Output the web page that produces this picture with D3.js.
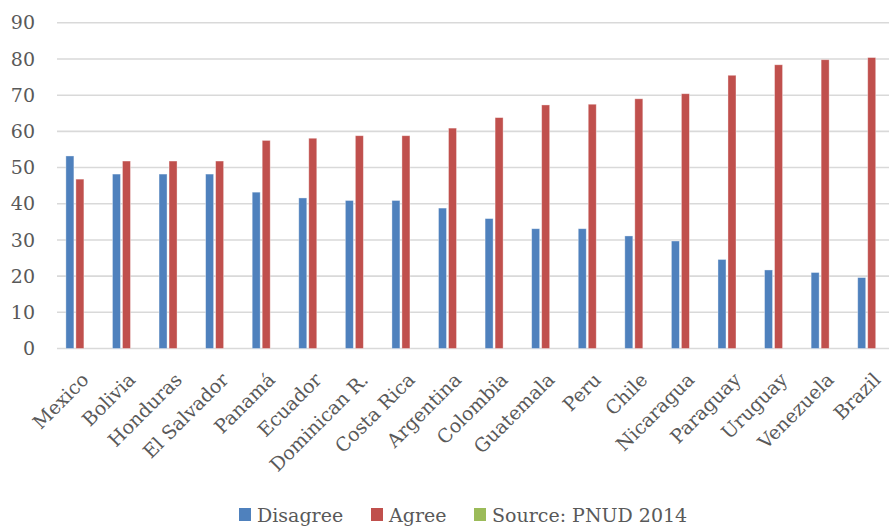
<!DOCTYPE html>
<html>
<head>
<meta charset="utf-8">
<script src="https://cdn.jsdelivr.net/npm/d3@7"></script>
<style>
  body { margin: 0; background: #fff; }
  svg { display: block; }
  text { font-family: 'DejaVu Serif', 'Liberation Serif', serif; fill: #595959; }
</style>
</head>
<body>
<div id="chart"></div>
<script>
var countries = ['Mexico', 'Bolivia', 'Honduras', 'El Salvador', 'Panamá', 'Ecuador', 'Dominican R.',
    'Costa Rica', 'Argentina', 'Colombia', 'Guatemala', 'Peru', 'Chile', 'Nicaragua', 'Paraguay',
    'Uruguay', 'Venezuela', 'Brazil'];
var disagree = [53.2, 48.2, 48.2, 48.2, 43.2, 41.6, 40.9, 40.9, 38.8, 35.9, 33.1, 33.1, 31.1, 29.7, 24.6, 21.7, 21.0, 19.6];
var agree = [46.8, 51.8, 51.8, 51.8, 57.5, 58.1, 58.8, 58.8, 60.9, 63.8, 67.3, 67.5, 69.0, 70.4, 75.5, 78.4, 79.8, 80.4];
var yTicks = [0, 10, 20, 30, 40, 50, 60, 70, 80, 90];
var legendItems = ['Disagree', 'Agree', 'Source: PNUD 2014'];

var colors = { Disagree: '#4F81BD', Agree: '#C0504D', 'Source: PNUD 2014': '#9BBB59' };

var width = 889,
    height = 527;

var svg = d3.select('#chart')
    .append('svg')
    .attr('width', width)
    .attr('height', height)

var xScale = d3.scaleBand()
    .domain(countries)
    .range([51.6, 890]),
    inner = d3.scaleBand()
    .domain(['Disagree', 'Agree'])
    .range([-9, 9])
    .paddingInner(0.2),
    yScale = d3.scaleLinear()
    .domain([0, 90])
    .range([348.5, 22.8])

// gridlines
svg.append('g')
    .selectAll('line')
    .data(yTicks)
    .enter()
    .append('line')
    .attr('x1', 57)
    .attr('x2', width)
    .attr('y1', function(d) { return yScale(d) })
    .attr('y2', function(d) { return yScale(d) })
    .attr('stroke', '#D9D9D9')
    .attr('stroke-width', 1.6)

// y axis labels, axis line and ticks hidden
var yAxis = d3.axisLeft(yScale)
    .tickValues(yTicks)
    .tickSize(0)
    .tickPadding(0)

var yAxisSelect = svg.append('g')
    .attr('transform', 'translate(35,0)')
    .call(yAxis)

yAxisSelect.select('.domain').remove()
yAxisSelect.selectAll('text')
    .attr('font-size', '19px')
    .attr('font-family', null)
    .attr('fill', null)

// bars
var rows = countries.map(function(c, i) {
    return { name: c, values: [{ key: 'Disagree', value: disagree[i] }, { key: 'Agree', value: agree[i] }] }
})

svg.append('g')
    .selectAll('g')
    .data(rows)
    .enter()
    .append('g')
    .attr('transform', function(d) { return 'translate(' + (xScale(d.name) + xScale.bandwidth() / 2) + ',0)' })
    .selectAll('rect')
    .data(function(d) { return d.values })
    .enter()
    .append('rect')
    .attr('x', function(d) { return inner(d.key) })
    .attr('width', inner.bandwidth())
    .attr('y', function(d) { return yScale(d.value) })
    .attr('height', function(d) { return yScale(0) - yScale(d.value) })
    .attr('fill', function(d) { return colors[d.key] })
    .attr('stroke', 'rgba(255,255,255,0.45)')
    .attr('stroke-width', 0.8)

// category labels
svg.append('g')
    .selectAll('text')
    .data(countries)
    .enter()
    .append('text')
    .text(function(d) { return d })
    .attr('text-anchor', 'end')
    .attr('font-size', '19px')
    .attr('transform', function(d) {
        var cx = xScale(d) + xScale.bandwidth() / 2 + 15
        return 'translate(' + cx + ',381) rotate(-45)'
    })

// legend
var legendX = [239, 371, 474]

var legend = svg.append('g')
    .selectAll('g')
    .data(legendItems)
    .enter()
    .append('g')
    .attr('transform', function(d, i) { return 'translate(' + legendX[i] + ',508)' })

legend.append('rect')
    .attr('width', 12)
    .attr('height', 13)
    .attr('fill', function(d) { return colors[d] })

legend.append('text')
    .text(function(d) { return d })
    .attr('x', 18)
    .attr('y', 14)
    .attr('font-size', '19px')
</script>
</body>
</html>
